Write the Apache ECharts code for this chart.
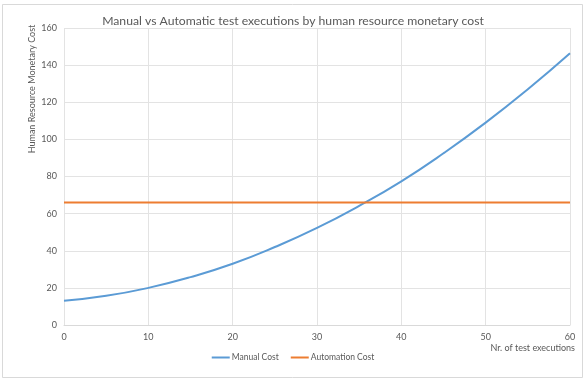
<!DOCTYPE html>
<html><head><meta charset="utf-8">
<script src="https://cdn.jsdelivr.net/npm/echarts@6/dist/echarts.min.js"></script>
<style>html,body{margin:0;padding:0;background:#fff}#c{width:586px;height:384px}</style>
</head><body><div id="c"></div>
<script>
const executions = [0, 5, 10, 15, 20, 25, 30, 35, 40, 45, 50, 55, 60];
const manualCost = [13, 15.7, 20, 25.8, 33, 42, 52.3, 64.2, 77.4, 92.5, 109, 127, 146.4];
const automationCost = [66, 66, 66, 66, 66, 66, 66, 66, 66, 66, 66, 66, 66];
const seriesNames = ['Manual Cost', 'Automation Cost'];
const FONT = 'Lato';
const chart = echarts.init(document.getElementById('c'));
chart.setOption({
  animation: false,
  backgroundColor: '#fff',
  title: {
    text: 'Manual vs Automatic test executions by human resource monetary cost',
    left: 'center', top: 10,
    textStyle: { fontFamily: FONT, fontSize: 12.2, fontWeight: 'normal', color: '#595959' }
  },
  legend: {
    data: seriesNames, bottom: 17, left: 'center',
    itemWidth: 18, itemHeight: 2, itemGap: 12, icon: 'rect',
    textStyle: { fontFamily: FONT, fontSize: 8.5, color: '#595959', padding: [0, 0, 0, -3] }
  },
  grid: { left: 64, right: 16, top: 28, bottom: 59 },
  xAxis: {
    type: 'value', min: 0, max: 60, interval: 10,
    name: 'Nr. of test executions', nameLocation: 'end',
    nameTextStyle: { fontFamily: FONT, fontSize: 9, color: '#595959', align: 'right', verticalAlign: 'top', padding: [19, -5, 0, 0] },
    nameGap: 0,
    axisLine: { show: true, lineStyle: { color: '#d9d9d9' } },
    axisTick: { show: false },
    axisLabel: { fontFamily: FONT, fontSize: 9, color: '#595959', margin: 8 },
    splitLine: { show: true, lineStyle: { color: '#e3e3e3' } }
  },
  yAxis: {
    type: 'value', min: 0, max: 160, interval: 20,
    axisLine: { show: false },
    axisTick: { show: false },
    axisLabel: { fontFamily: FONT, fontSize: 9, color: '#595959', margin: 7 },
    splitLine: { show: true, lineStyle: { color: '#e3e3e3' } }
  },
  graphic: [
    { type: 'rect', shape: { x: 2.5, y: 4.5, width: 580, height: 373 }, style: { fill: 'none', stroke: '#d9d9d9', lineWidth: 1 }, z: -1 },
    { type: 'text', x: 32, y: 89, rotation: Math.PI / 2,
      style: { text: 'Human Resource Monetary Cost', fontFamily: FONT, fontSize: 9, fill: '#595959', align: 'center', verticalAlign: 'middle' } }
  ],
  series: [
    { name: seriesNames[0], type: 'line', smooth: true, showSymbol: false, symbol: 'none',
      data: executions.map((x, i) => [x, manualCost[i]]),
      lineStyle: { color: '#5B9BD5', width: 2 }, itemStyle: { color: '#5B9BD5' } },
    { name: seriesNames[1], type: 'line', showSymbol: false, symbol: 'none',
      data: executions.map((x, i) => [x, automationCost[i]]),
      lineStyle: { color: '#ED7D31', width: 2 }, itemStyle: { color: '#ED7D31' } }
  ]
});
</script></body></html>
